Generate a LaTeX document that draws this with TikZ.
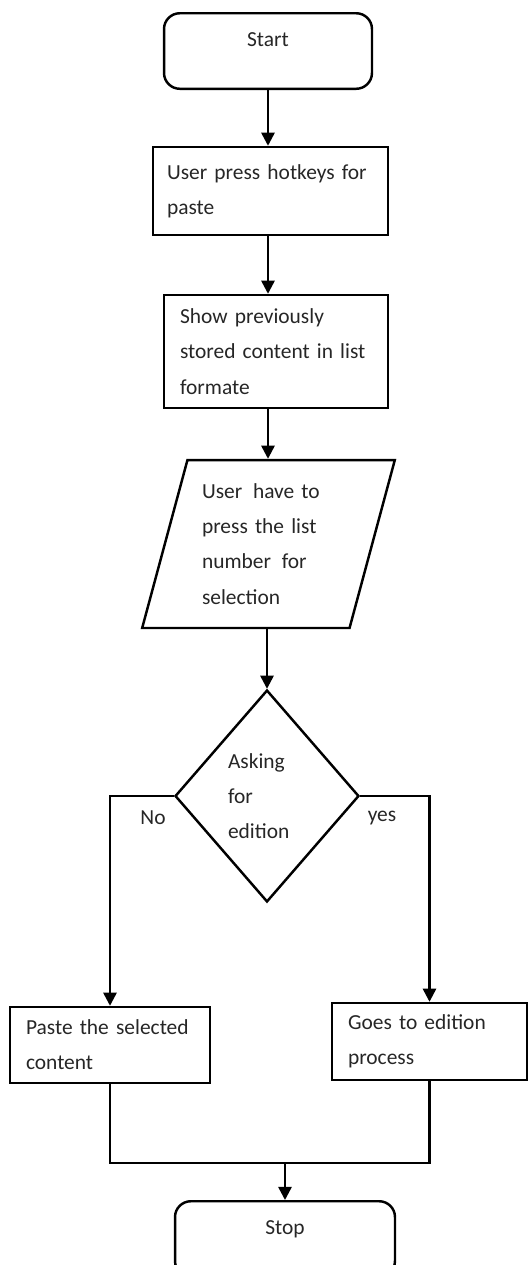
\documentclass[tikz,border=0pt]{standalone}
\usepackage{fontspec}
\setmainfont{Carlito}
\usepackage{tikz}
\usetikzlibrary{arrows.meta,shapes.geometric}

\begin{document}
\begin{tikzpicture}[
    x=0.02cm, y=-0.02cm,
    >={Triangle[length=7.5pt,width=7.5pt]},
    every node/.style={font=\fontsize{12.2}{20}\selectfont, text=black!85},
    box/.style={draw, line width=1.4pt, align=left},
    term/.style={draw, line width=1.4pt, rounded corners=9pt,
                 minimum width=#1, inner ysep=11pt,
                 text height=8pt, text depth=13pt, anchor=north},
    arr/.style={->, line width=1.4pt},
    lbl/.style={font=\fontsize{12.2}{14}\selectfont},
  ]
  \clip (0,0) rectangle (531,1265);

  % terminals
  \node[term=4.16cm] (start) at (268,12) {Start};
  \node[term=4.4cm]  (stop)  at (285,1200) {Stop};

  % steps
  \node[box, minimum width=4.7cm, minimum height=1.76cm, text width=4.14cm] (hot) at (270.5,191)
    {User press hotkeys for\\paste};
  \node[box, minimum width=4.48cm, minimum height=2.26cm, text width=3.84cm] (show) at (276,351.5)
    {Show previously\\stored content in list\\formate};

  % input
  \node[box, trapezium, trapezium left angle=73, trapezium right angle=107,
        trapezium stretches=true, minimum width=5.06cm, minimum height=3.36cm,
        text width=2.66cm] (sel) at (268.5,544)
    {User\, have to\\press the list\\number\, for\\selection};

  % decision
  \node[box, diamond, minimum width=3.68cm, minimum height=4.24cm,
        inner sep=0pt, text width=1.56cm] (ask) at (267,796)
    {Asking\\for\\edition};

  % outcomes
  \node[box, minimum width=4cm, minimum height=1.52cm, text width=3.36cm] (paste) at (110,1045)
    {Paste the selected\\content};
  \node[box, minimum width=3.9cm, minimum height=1.54cm, text width=3.26cm] (goes) at (429.5,1041.5)
    {Goes to edition\\process};

  \coordinate (join) at (285,1163);

  \draw[arr] (start.south) -- (start.south |- hot.north);
  \draw[arr] (start.south |- hot.south) -- (start.south |- show.north);
  \draw[arr] (start.south |- show.south) -- (start.south |- sel.top side);
  \draw[arr] (ask.north |- sel.bottom side) -- (ask.north);
  \draw[arr] (ask.west) -| (paste.north);
  \draw[arr] (ask.east) -| (goes.north);
  \draw[line width=1.4pt] (paste.south) |- (join) -| (goes.south);
  \draw[arr] (join) -- (stop.north);

  \node[lbl] (no)  at (153,818) {No};
  \node[lbl] (yes) at (382,818) {yes};
\end{tikzpicture}
\end{document}
